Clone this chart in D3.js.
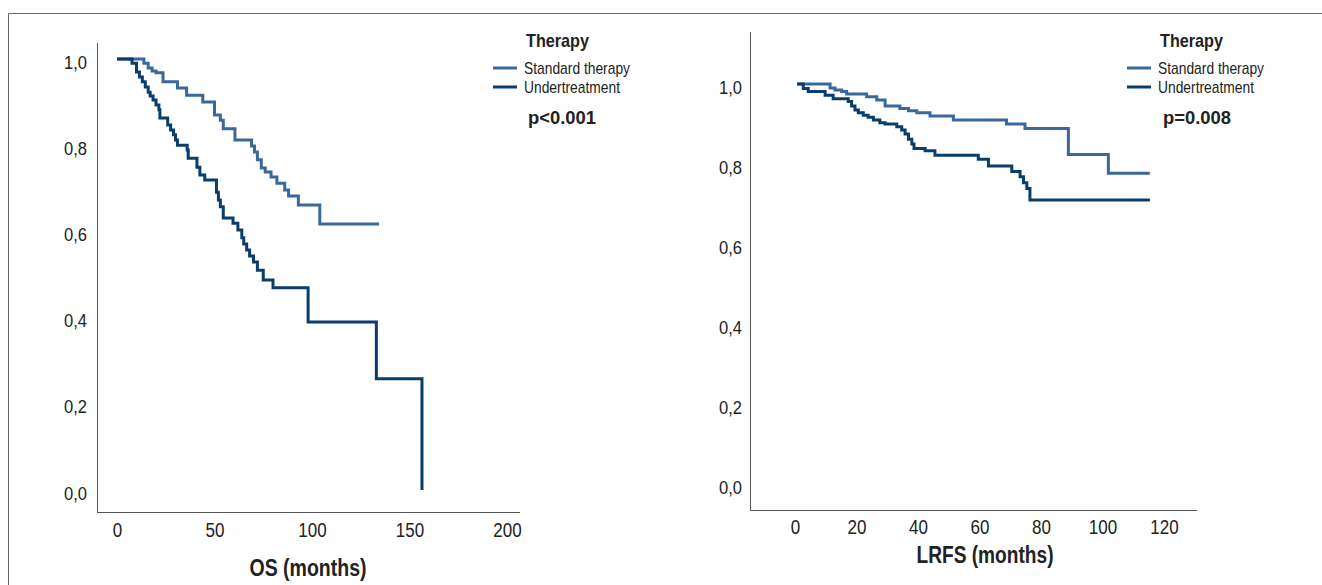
<!DOCTYPE html>
<html>
<head>
<meta charset="utf-8">
<script src="https://cdn.jsdelivr.net/npm/d3@7"></script>
<style>
  body { margin: 0; background: #fff; }
  svg { display: block; }
  text { font-family: "Liberation Sans", Arial, sans-serif; fill: #222; }
</style>
</head>
<body>
<script>
// OS (months) - Kaplan-Meier
const osStdTime = [0, 13.8, 16, 18, 20, 23.6, 31, 35.7, 44, 50, 53, 54.5, 60.5, 69, 70.5, 72, 74, 76, 79, 82, 86, 88, 93, 104, 134.4];
const osStdSurv = [1.0, 0.99, 0.979, 0.972, 0.968, 0.947, 0.933, 0.916, 0.90, 0.87, 0.858, 0.838, 0.812, 0.798, 0.784, 0.766, 0.747, 0.738, 0.726, 0.712, 0.696, 0.682, 0.661, 0.617, 0.617];
const osUndTime = [0, 7.7, 10, 11.5, 13, 14.5, 16, 17, 18.5, 20, 21.5, 22, 26, 27.5, 29, 30, 31, 36, 36.5, 41, 42.5, 45, 51, 52, 53, 54.5, 59.5, 62, 64, 65, 66.5, 68, 70, 72, 75, 80, 98, 133, 156.4];
const osUndSurv = [1.0, 0.99, 0.97, 0.958, 0.947, 0.935, 0.923, 0.914, 0.905, 0.893, 0.882, 0.863, 0.847, 0.835, 0.824, 0.812, 0.80, 0.789, 0.77, 0.749, 0.731, 0.719, 0.691, 0.673, 0.657, 0.631, 0.619, 0.603, 0.585, 0.571, 0.557, 0.543, 0.529, 0.51, 0.487, 0.469, 0.39, 0.258, 0.0];

// LRFS (months)
const lrStdTime = [0.7, 11.4, 13, 15.2, 16.8, 23.3, 26.6, 29.3, 34.1, 36.9, 39.6, 43.9, 51.5, 68.8, 74.8, 88.9, 101.9, 115.4];
const lrStdSurv = [1.0, 0.99, 0.985, 0.981, 0.975, 0.968, 0.96, 0.945, 0.939, 0.933, 0.928, 0.92, 0.91, 0.90, 0.889, 0.824, 0.777, 0.777];
const lrUndTime = [0.7, 2.7, 4.3, 9.8, 12.4, 17.3, 18.4, 19.5, 20.6, 22.2, 23.8, 25.5, 27.6, 29.3, 33.1, 34.7, 35.8, 36.9, 38, 38.7, 42.3, 45.5, 59.6, 62.9, 70.5, 73.2, 74.3, 75.4, 76.4, 115.4];
const lrUndSurv = [1.0, 0.989, 0.981, 0.972, 0.963, 0.956, 0.945, 0.935, 0.928, 0.922, 0.917, 0.91, 0.903, 0.90, 0.893, 0.885, 0.875, 0.862, 0.85, 0.839, 0.833, 0.822, 0.812, 0.795, 0.781, 0.768, 0.753, 0.739, 0.71, 0.71];

const yTicks = [0, 0.2, 0.4, 0.6, 0.8, 1.0];
const osXTicks = [0, 50, 100, 150, 200];
const lrXTicks = [0, 20, 40, 60, 80, 100, 120];
const grupos = ["Standard therapy", "Undertreatment"];
const colores = ["#39699a", "#083d6d"];

const svg = d3.select("body").append("svg").attr("width", 1322).attr("height", 585);

// marco
svg.append("path").attr("d", "M8.5,585 V13.5 H1322")
  .attr("fill", "none").attr("stroke", "#666").attr("stroke-width", 1);

const fmt = d => d3.format(".1f")(d).replace(".", ",");
const zip = (t, s) => t.map((v, i) => ({ t: v, s: s[i] }));

// texto comprimido (la fuente original es condensada)
function texto(g, x, y, str, size, bold, ancho, anchor) {
  return g.append("text").attr("x", x).attr("y", y)
    .attr("font-size", size).attr("font-weight", bold ? "bold" : null)
    .attr("text-anchor", anchor || "start")
    .attr("textLength", ancho).attr("lengthAdjust", "spacingAndGlyphs")
    .text(str);
}

function comprimir(sel, size, f) {
  sel.attr("font-size", size).attr("font-family", null).attr("fill", "#222")
    .each(function () {
      const w = this.getComputedTextLength();
      d3.select(this).attr("textLength", w * f).attr("lengthAdjust", "spacingAndGlyphs");
    });
}

function panel(cfg) {
  const g = svg.append("g");
  const x = d3.scaleLinear().domain(cfg.xDomain).range(cfg.xRange);
  const y = d3.scaleLinear().domain([0, 1]).range(cfg.yRange);

  // ejes
  g.append("line").attr("x1", cfg.axisX + 0.5).attr("x2", cfg.axisX + 0.5)
    .attr("y1", cfg.axisTop).attr("y2", cfg.axisY).attr("stroke", "#555");
  g.append("line").attr("x1", cfg.axisX).attr("x2", cfg.axisRight)
    .attr("y1", cfg.axisY + 0.5).attr("y2", cfg.axisY + 0.5).attr("stroke", "#555");

  const ya = g.append("g").attr("transform", `translate(${cfg.axisX},3)`)
    .call(d3.axisLeft(y).tickValues(yTicks).tickFormat(fmt).tickSize(0).tickPadding(cfg.yPad));
  ya.select(".domain").remove();
  comprimir(ya.selectAll("text"), 19, 0.87);

  const xa = g.append("g").attr("transform", `translate(0,${cfg.axisY})`)
    .call(d3.axisBottom(x).tickValues(cfg.xTicks).tickSize(0).tickPadding(cfg.xPad));
  xa.select(".domain").remove();
  comprimir(xa.selectAll("text"), 20, 0.85);

  texto(g, cfg.titleX, cfg.titleY, cfg.title, 23, true, cfg.titleW, "middle");

  // curvas
  const line = d3.line().x(d => x(d.t)).y(d => y(d.s)).curve(d3.curveStepAfter);
  cfg.series.forEach((s, i) => {
    g.append("path").datum(s).attr("d", line)
      .attr("fill", "none").attr("stroke", colores[i]).attr("stroke-width", 3);
  });

  // leyenda
  const lg = g.append("g").attr("transform", `translate(${cfg.legX},0)`);
  texto(lg, 33, 47, "Therapy", 19, true, 63);
  const anchos = [106, 96];
  grupos.forEach((n, i) => {
    const yy = 68 + i * 19;
    lg.append("line").attr("x1", 0).attr("x2", 24).attr("y1", yy).attr("y2", yy)
      .attr("stroke", colores[i]).attr("stroke-width", 3);
    texto(lg, 31, yy + 6, n, 17, false, anchos[i]);
  });
  texto(lg, cfg.pX, 124, cfg.p, 18.5, true, 68);
}

panel({
  xDomain: [0, 200], xRange: [117, 507], yRange: [490, 59],
  axisX: 97, axisTop: 43, axisY: 512, axisRight: 520, yPad: 10, xPad: 11,
  xTicks: osXTicks, title: "OS (months)", titleX: 308, titleY: 576, titleW: 117,
  series: [zip(osStdTime, osStdSurv), zip(osUndTime, osUndSurv)],
  legX: 493, p: "p<0.001", pX: 35
});

panel({
  xDomain: [0, 120], xRange: [795, 1164], yRange: [484, 84],
  axisX: 750, axisTop: 32, axisY: 510, axisRight: 1197, yPad: 8, xPad: 10,
  xTicks: lrXTicks, title: "LRFS (months)", titleX: 985, titleY: 563, titleW: 137,
  series: [zip(lrStdTime, lrStdSurv), zip(lrUndTime, lrUndSurv)],
  legX: 1127, p: "p=0.008", pX: 36
});
</script>
</body>
</html>
